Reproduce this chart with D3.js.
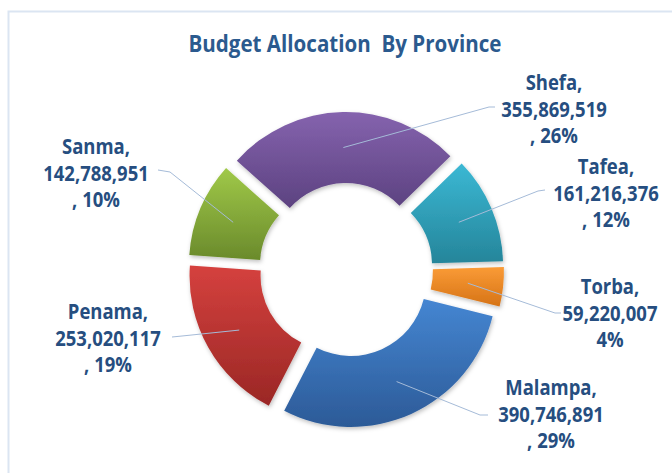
<!DOCTYPE html>
<html>
<head>
<meta charset="utf-8">
<script src="https://d3js.org/d3.v7.min.js"></script>
<style>
  body { margin: 0; background: #fff; }
  text { font-family: "Open Sans", sans-serif; font-weight: bold; }
</style>
</head>
<body>
<svg width="672" height="473"></svg>
<script>
// data
var provinces = ["Malampa", "Penama", "Sanma", "Shefa", "Tafea", "Torba"];
var budgets = [390746891, 253020117, 142788951, 355869519, 161216376, 59220007];
var percents = ["29%", "19%", "10%", "26%", "12%", "4%"];

// colors (top, bottom of gradient)
var topColors = ["#4586d2", "#d5413e", "#a0c949", "#8563ae", "#3bb8d4", "#fa9b36"];
var bottomColors = ["#2c5a97", "#9a2725", "#6a8a2b", "#5c4280", "#25859a", "#d67316"];

// label layout: text centre x, first line y, line elbow and end
var labelPos = [
    { x: 551, y: 388, ex: 480, ey: 415, tx: 488, ty: 415 },
    { x: 108, y: 312, ex: 182, ey: 336, tx: 172, ty: 337 },
    { x: 96, y: 147, ex: 170, ey: 172, tx: 158, ty: 170 },
    { x: 554, y: 83, ex: 489, ey: 107, tx: 495, ty: 107 },
    { x: 606, y: 167, ex: 538, ey: 191, tx: 545, ty: 190 },
    { x: 610, y: 287, ex: 555, ey: 313, tx: 561, ty: 313 }
];

var svg = d3.select("svg"),
    width = +svg.attr("width"),
    height = +svg.attr("height");

var cx = 346, cy = 270,
    outerR = 146, innerR = 75,
    explode = 12,
    startAngle = 104 * Math.PI / 180;

var defs = svg.append("defs");

// soft shadow
var shadow = defs.append("filter")
    .attr("id", "shadow")
    .attr("x", "-20%").attr("y", "-20%")
    .attr("width", "140%").attr("height", "140%");
shadow.append("feDropShadow")
    .attr("dx", 1).attr("dy", 2)
    .attr("stdDeviation", 2)
    .attr("flood-color", "#000")
    .attr("flood-opacity", 0.25);

provinces.forEach(function (p, i) {
    var g = defs.append("linearGradient")
        .attr("id", "grad" + i)
        .attr("x1", 0).attr("y1", 0)
        .attr("x2", 0).attr("y2", 1);
    g.append("stop").attr("offset", "0%").attr("stop-color", topColors[i]);
    g.append("stop").attr("offset", "100%").attr("stop-color", bottomColors[i]);
});

// frame
svg.append("rect")
    .attr("x", 8.5).attr("y", 11.5)
    .attr("width", 700).attr("height", 500)
    .attr("fill", "none")
    .attr("stroke", "#dbe5f2")
    .attr("stroke-width", 2);

// title
svg.append("text")
    .attr("x", 345)
    .attr("y", 52)
    .attr("text-anchor", "middle")
    .attr("textLength", 313)
    .attr("lengthAdjust", "spacingAndGlyphs")
    .style("white-space", "pre")
    .style("font-size", "23px")
    .attr("fill", "#2b5a8e")
    .text("Budget Allocation  By Province");

var pie = d3.pie()
    .sort(null)
    .startAngle(startAngle)
    .endAngle(startAngle + 2 * Math.PI)
    .value(function (d) { return d; });

var arc = d3.arc()
    .innerRadius(innerR)
    .outerRadius(outerR);

var arcs = pie(budgets);

function offset(d) {
    var a = (d.startAngle + d.endAngle) / 2;
    return [explode * Math.sin(a), -explode * Math.cos(a)];
}

var slices = svg.append("g")
    .attr("transform", "translate(" + cx + "," + cy + ")");

slices.selectAll("path")
    .data(arcs)
    .enter()
    .append("path")
    .attr("transform", function (d) {
        var o = offset(d);
        return "translate(" + o[0] + "," + o[1] + ")";
    })
    .attr("d", arc)
    .attr("fill", function (d, i) { return "url(#grad" + i + ")"; })
    .attr("filter", "url(#shadow)");

// leader lines
svg.append("g")
    .selectAll("polyline")
    .data(arcs)
    .enter()
    .append("polyline")
    .attr("points", function (d, i) {
        var o = offset(d);
        var c = arc.centroid(d);
        var lp = labelPos[i];
        return [
            [cx + o[0] + c[0], cy + o[1] + c[1]],
            [lp.ex, lp.ey],
            [lp.tx, lp.ty]
        ].join(" ");
    })
    .attr("fill", "none")
    .attr("stroke", "#a5bbd8")
    .attr("stroke-width", 1);

// labels
var fmt = d3.format(",");
svg.append("g")
    .selectAll("g")
    .data(arcs)
    .enter()
    .append("g")
    .each(function (d, i) {
        var lp = labelPos[i];
        var lines = [provinces[i] + ",", fmt(budgets[i]),
            (provinces[i] === "Torba" ? "" : ", ") + percents[i]];
        var grp = d3.select(this);
        lines.forEach(function (l, k) {
            var t = grp.append("text")
                .attr("x", lp.x)
                .attr("y", lp.y + k * 26.5)
                .attr("dy", "0.35em")
                .attr("text-anchor", "middle")
                .style("font-size", "20.5px")
                .attr("fill", "#264e80")
                .text(l);
            // squeeze a little, the original face is narrower
            var w = t.node().getComputedTextLength();
            t.attr("textLength", w * 0.9)
                .attr("lengthAdjust", "spacingAndGlyphs");
        });
    });
</script>
</body>
</html>
